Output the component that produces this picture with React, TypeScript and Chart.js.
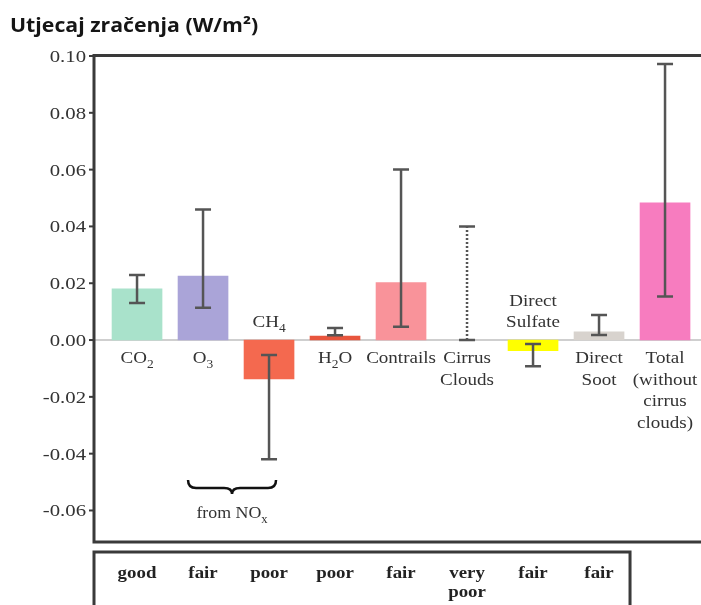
import { useEffect, useRef } from "react";
import { Chart, registerables } from "chart.js";

Chart.register(...registerables);

const title = "Utjecaj zračenja (W/m²)";
const categories = ["CO2", "O3", "CH4", "H2O", "Contrails", "Cirrus Clouds", "Direct Sulfate", "Direct Soot", "Total (without cirrus clouds)"];
const labelLines = [["CO_2"], ["O_3"], ["CH_4"], ["H_2O"], ["Contrails"], ["Cirrus", "Clouds"], ["Direct", "Sulfate"], ["Direct", "Soot"], ["Total", "(without", "cirrus", "clouds)"]];
const labelAbove = [false, false, true, false, false, false, true, false, false];
const values: (number | null)[] = [0.018, 0.0225, -0.0137, 0.0014, 0.0202, null, -0.0037, 0.0029, 0.0483];
const errLow = [0.013, 0.0114, -0.042, 0.0017, 0.0047, 0.0, -0.0092, 0.0018, 0.0153];
const errHigh = [0.0229, 0.046, -0.0053, 0.0042, 0.06, 0.04, -0.0014, 0.0088, 0.0972];
const errDotted = [false, false, false, false, false, true, false, false, false];
const barColors = ["#a9e2cb", "#aaa4d8", "#f4694f", "#e8553d", "#f9939a", "#cccccc", "#ffff00", "#d8d3ce", "#f77cbf"];
const yTicks = [0.1, 0.08, 0.06, 0.04, 0.02, 0.0, -0.02, -0.04, -0.06];
const yTickLabels = ["0.10", "0.08", "0.06", "0.04", "0.02", "0.00", "-0.02", "-0.04", "-0.06"];
const quality = [["good"], ["fair"], ["poor"], ["poor"], ["fair"], ["very", "poor"], ["fair"], ["fair"]];
const braceFrom = 1;
const braceTo = 2;
const braceLabel = "from NO_x";

const serif = '"Liberation Serif", serif';

function drawRich(ctx: CanvasRenderingContext2D, text: string, x: number, y: number, size: number, bold: boolean, sx: number, color: string, align: "center" | "right" = "center") {
  const parts: { t: string; sub: boolean }[] = [];
  for (let i = 0; i < text.length; i++) {
    if (text[i] === "_" && i + 1 < text.length) {
      parts.push({ t: text[i + 1], sub: true });
      i++;
    } else if (parts.length && !parts[parts.length - 1].sub) {
      parts[parts.length - 1].t += text[i];
    } else {
      parts.push({ t: text[i], sub: false });
    }
  }
  const b = bold ? "bold " : "";
  const mainFont = `${b}${size}px ${serif}`;
  const subFont = `${b}${Math.round(size * 0.7)}px ${serif}`;
  let w = 0;
  for (const p of parts) {
    ctx.font = p.sub ? subFont : mainFont;
    w += ctx.measureText(p.t).width;
  }
  ctx.save();
  ctx.translate(x, y);
  ctx.scale(sx, 1);
  ctx.fillStyle = color;
  ctx.textAlign = "left";
  ctx.textBaseline = "alphabetic";
  let cx = align === "center" ? -w / 2 : -w;
  for (const p of parts) {
    ctx.font = p.sub ? subFont : mainFont;
    ctx.fillText(p.t, cx, p.sub ? size * 0.28 : 0);
    cx += ctx.measureText(p.t).width;
  }
  ctx.restore();
}

const decorPlugin = {
  id: "decor",
  beforeDatasetsDraw(chart: any) {
    const { ctx, chartArea } = chart;
    const y = chart.scales.y;
    const z = y.getPixelForValue(0);
    ctx.save();
    ctx.strokeStyle = "#cfcfcf";
    ctx.lineWidth = 2;
    ctx.beginPath();
    ctx.moveTo(chartArea.left, z);
    ctx.lineTo(chartArea.right, z);
    ctx.stroke();
    ctx.restore();
  },
  afterDatasetsDraw(chart: any) {
    const { ctx, chartArea } = chart;
    const x = chart.scales.x;
    const y = chart.scales.y;
    const z = y.getPixelForValue(0);
    ctx.save();

    // error bars
    ctx.strokeStyle = "#555555";
    ctx.lineWidth = 2.5;
    for (let i = 0; i < categories.length; i++) {
      const px = x.getPixelForValue(i);
      const y1 = y.getPixelForValue(errLow[i]);
      const y2 = y.getPixelForValue(errHigh[i]);
      ctx.setLineDash(errDotted[i] ? [2, 2] : []);
      ctx.beginPath();
      ctx.moveTo(px, y1);
      ctx.lineTo(px, y2);
      ctx.stroke();
      ctx.setLineDash([]);
      ctx.beginPath();
      ctx.moveTo(px - 8, y1);
      ctx.lineTo(px + 8, y1);
      ctx.moveTo(px - 8, y2);
      ctx.lineTo(px + 8, y2);
      ctx.stroke();
    }

    // category labels
    for (let i = 0; i < categories.length; i++) {
      const px = x.getPixelForValue(i);
      const lines = labelLines[i];
      if (labelAbove[i]) {
        const base = z - 13;
        lines.forEach((l, k) => {
          drawRich(ctx, l, px, base - (lines.length - 1 - k) * 21.5, 17, false, 1.12, "#333333");
        });
      } else {
        const base = z + 23;
        lines.forEach((l, k) => {
          drawRich(ctx, l, px, base + k * 21.5, 17, false, 1.12, "#333333");
        });
      }
    }

    // brace
    const bx1 = x.getPixelForValue(braceFrom) - 15;
    const bx2 = x.getPixelForValue(braceTo) + 7;
    const bm = (bx1 + bx2) / 2;
    const bt = 480;
    ctx.strokeStyle = "#111111";
    ctx.lineWidth = 2.5;
    ctx.beginPath();
    ctx.moveTo(bx1, bt);
    ctx.quadraticCurveTo(bx1, bt + 8, bx1 + 8, bt + 8);
    ctx.lineTo(bm - 8, bt + 8);
    ctx.quadraticCurveTo(bm, bt + 8, bm, bt + 14);
    ctx.quadraticCurveTo(bm, bt + 8, bm + 8, bt + 8);
    ctx.lineTo(bx2 - 8, bt + 8);
    ctx.quadraticCurveTo(bx2, bt + 8, bx2, bt);
    ctx.stroke();
    drawRich(ctx, braceLabel, bm, 518, 17, false, 1.05, "#333333");

    // frame
    ctx.strokeStyle = "#3a3a3a";
    ctx.lineWidth = 3;
    ctx.beginPath();
    ctx.moveTo(chartArea.right + 2, chartArea.top - 0.5);
    ctx.lineTo(chartArea.left, chartArea.top - 0.5);
    ctx.lineTo(chartArea.left, chartArea.bottom);
    ctx.lineTo(chartArea.right + 2, chartArea.bottom);
    ctx.stroke();

    // y ticks
    ctx.lineWidth = 2;
    for (let k = 0; k < yTicks.length; k++) {
      const py = y.getPixelForValue(yTicks[k]);
      ctx.beginPath();
      ctx.moveTo(chartArea.left - 5, py);
      ctx.lineTo(chartArea.left, py);
      ctx.stroke();
      drawRich(ctx, yTickLabels[k], chartArea.left - 8, py + 6, 17, false, 1.22, "#333333", "right");
    }

    // quality table
    const tTop = 552;
    const tRight = x.getPixelForValue(quality.length - 1) + 31;
    ctx.strokeStyle = "#3a3a3a";
    ctx.lineWidth = 3;
    ctx.beginPath();
    ctx.moveTo(chartArea.left, 610);
    ctx.lineTo(chartArea.left, tTop);
    ctx.lineTo(tRight, tTop);
    ctx.lineTo(tRight, 610);
    ctx.stroke();
    for (let i = 0; i < quality.length; i++) {
      const px = x.getPixelForValue(i);
      quality[i].forEach((l, k) => {
        drawRich(ctx, l, px, 578 + k * 19, 16, true, 1.18, "#222222");
      });
    }

    // title
    ctx.save();
    ctx.translate(10, 32);
    ctx.scale(1.12, 1);
    ctx.font = 'bold 19px "Open Sans", "Noto Sans", sans-serif';
    ctx.fillStyle = "#151515";
    ctx.textAlign = "left";
    ctx.textBaseline = "alphabetic";
    ctx.fillText(title, 0, 0);
    ctx.restore();
    ctx.restore();
  },
};

export default function App() {
  const ref = useRef<HTMLCanvasElement>(null);
  useEffect(() => {
    if (!ref.current) return;
    const chart = new Chart(ref.current, {
      type: "bar",
      data: {
        datasets: [
          {
            data: values.map((v, i) => ({ x: i, y: v })) as any,
            backgroundColor: barColors,
            borderWidth: 0,
            barThickness: 50,
          },
        ],
      },
      options: {
        animation: false,
        responsive: false,
        devicePixelRatio: 1,
        layout: { padding: { left: 94, top: 56, right: 0, bottom: 63 } },
        plugins: { legend: { display: false }, tooltip: { enabled: false } },
        scales: {
          x: { type: "linear", offset: false, min: -0.652, max: 8.545, display: false },
          y: { type: "linear", min: -0.0711, max: 0.1, display: false },
        },
      },
      plugins: [decorPlugin],
    });
    return () => chart.destroy();
  }, []);
  return (
    <div style={{ position: "absolute", left: 0, top: 0, width: 701, height: 605, background: "#ffffff" }}>
      <canvas ref={ref} width={701} height={605} />
    </div>
  );
}
